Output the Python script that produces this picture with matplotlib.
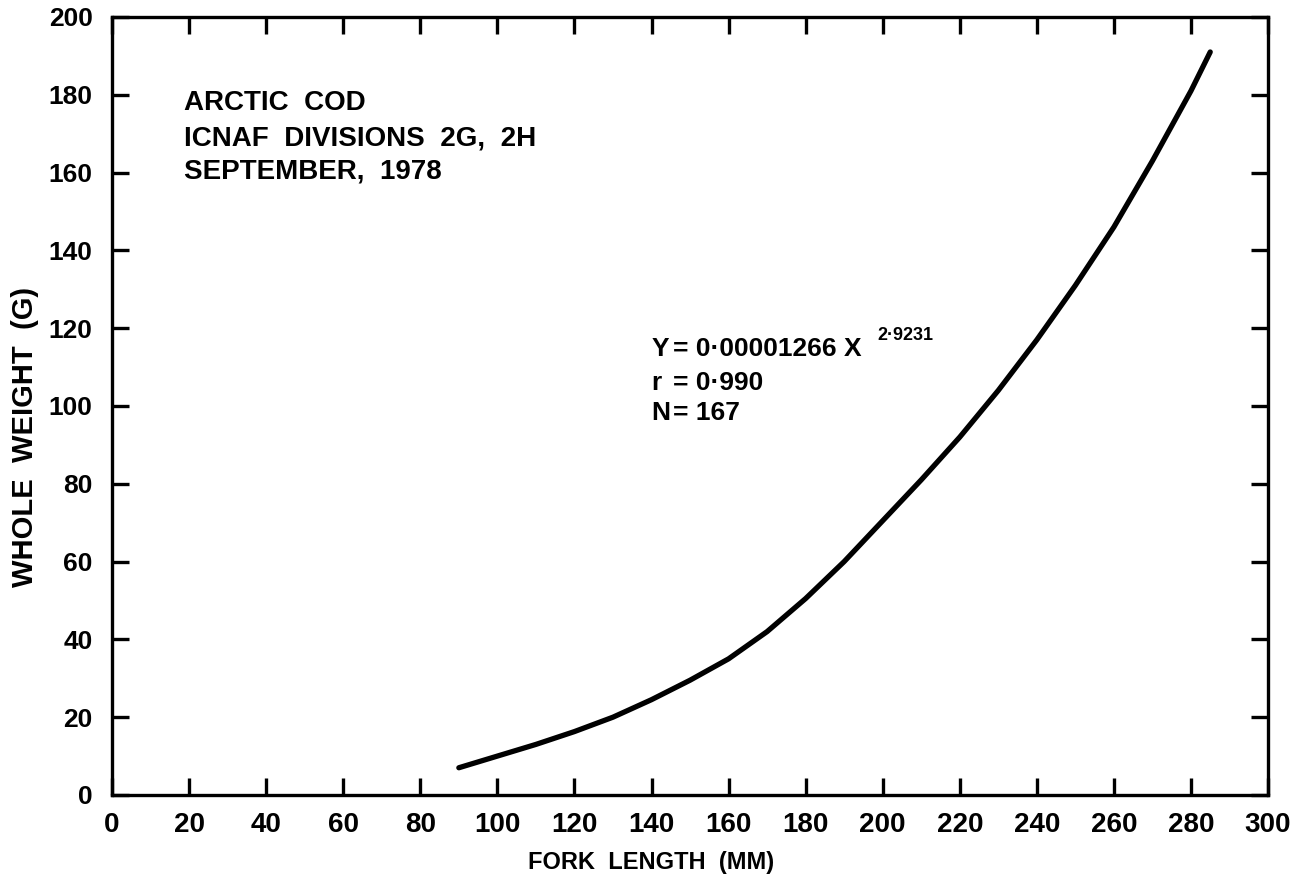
import matplotlib
matplotlib.use("Agg")
import matplotlib.pyplot as plt

# Values
fork_length = [90, 100, 110, 120, 130, 140, 150, 160, 170, 180, 190, 200,
               210, 220, 230, 240, 250, 260, 270, 280, 285]
whole_weight = [7, 10, 13, 16.3, 20, 24.5, 29.5, 35, 42, 50.5, 60, 70.5,
                81, 92, 104, 117, 131, 146, 163, 181, 191]

x_ticks = list(range(0, 301, 20))
y_ticks = list(range(0, 201, 20))

plt.rcParams['font.family'] = ['Liberation Sans', 'DejaVu Sans']

fig = plt.figure(figsize=(13.09, 8.84), dpi=100)
ax = fig.add_axes([0.0856, 0.1007, 0.8831, 0.8801])

ax.plot(fork_length, whole_weight, color='black', lw=3.8,
        solid_capstyle='round', solid_joinstyle='round')

ax.set_xlim(0, 300)
ax.set_ylim(0, 200)
ax.set_xticks(x_ticks)
ax.set_yticks(y_ticks)
ax.set_xticklabels([str(v) for v in x_ticks], fontsize=20, fontweight='bold')
ax.set_yticklabels([str(v) for v in y_ticks], fontsize=19, fontweight='bold')

for s in ax.spines.values():
    s.set_linewidth(2.4)

ax.tick_params(axis='both', direction='in', length=12, width=2.4,
               top=True, right=True)
ax.tick_params(axis='x', pad=12)
ax.tick_params(axis='y', pad=14)

ax.text(0.466, -0.0874, 'FORK  LENGTH  (MM)', transform=ax.transAxes,
        ha='center', va='center', fontsize=17, fontweight='bold')
ax.text(-0.0753, 0.46, 'WHOLE  WEIGHT  (G)', transform=ax.transAxes,
        ha='center', va='center', rotation=90, fontsize=21, fontweight='bold')

txt_kw = dict(fontsize=20, ha='left', va='baseline', fontweight='bold')
ax.text(18.7, 176, 'ARCTIC  COD', **txt_kw)
ax.text(18.7, 167, 'ICNAF  DIVISIONS  2G,  2H', **txt_kw)
ax.text(18.7, 158.4, 'SEPTEMBER,  1978', **txt_kw)

eq_kw = dict(fontsize=19, ha='left', va='baseline', fontweight='bold')
ax.text(140, 112.9, 'Y', **eq_kw)
ax.text(145.5, 112.9, '= 0·00001266 X', **eq_kw)
ax.text(198.5, 117, '2·9231', fontsize=13, ha='left', va='baseline',
        fontweight='bold')
ax.text(140, 104.1, 'r', **eq_kw)
ax.text(145.5, 104.1, '= 0·990', **eq_kw)
ax.text(140, 96.4, 'N', **eq_kw)
ax.text(145.5, 96.4, '= 167', **eq_kw)

fig.savefig('out.png', dpi=100)
